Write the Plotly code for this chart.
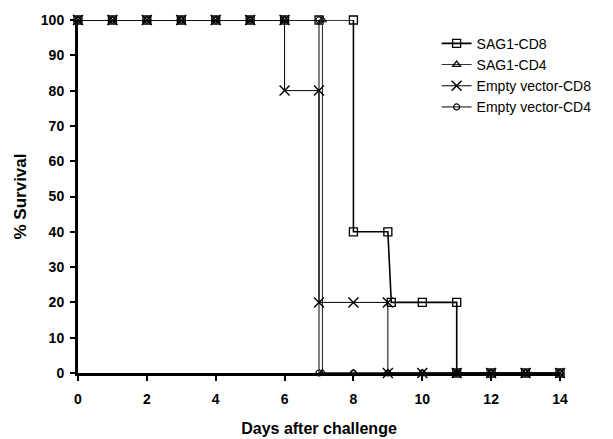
import plotly.graph_objects as go

# ---- data ----
sag1_cd8_days = [0, 1, 2, 3, 4, 5, 6, 7, 8, 8, 9, 9.1, 10, 11, 11, 12, 13, 14]
sag1_cd8_surv = [100, 100, 100, 100, 100, 100, 100, 100, 100, 40, 40, 20, 20, 20, 0, 0, 0, 0]

sag1_cd4_days = [0, 1, 2, 3, 4, 5, 6, 7.1, 7.1, 8, 9, 10, 11, 12, 13, 14]
sag1_cd4_surv = [100, 100, 100, 100, 100, 100, 100, 100, 0, 0, 0, 0, 0, 0, 0, 0]

ev_cd8_days = [0, 1, 2, 3, 4, 5, 6, 6, 7, 7, 8, 9, 9, 10, 11, 12, 13, 14]
ev_cd8_surv = [100, 100, 100, 100, 100, 100, 100, 80, 80, 20, 20, 20, 0, 0, 0, 0, 0, 0]

ev_cd4_days = [0, 1, 2, 3, 4, 5, 6, 7, 7, 8, 9, 10, 11, 12, 13, 14]
ev_cd4_surv = [100, 100, 100, 100, 100, 100, 100, 100, 0, 0, 0, 0, 0, 0, 0, 0]

series_names = ["SAG1-CD8", "SAG1-CD4", "Empty vector-CD8", "Empty vector-CD4"]
x_ticks = [0, 2, 4, 6, 8, 10, 12, 14]
y_ticks = [0, 10, 20, 30, 40, 50, 60, 70, 80, 90, 100]

fig = go.Figure()
fig.add_trace(go.Scatter(x=sag1_cd8_days, y=sag1_cd8_surv, name=series_names[0],
                         mode="lines+markers", cliponaxis=False,
                         line=dict(color="black", width=1.6),
                         marker=dict(symbol="square-open", size=8, color="black",
                                     line=dict(width=1.3, color="black"))))
fig.add_trace(go.Scatter(x=sag1_cd4_days, y=sag1_cd4_surv, name=series_names[1],
                         mode="lines+markers", cliponaxis=False,
                         line=dict(color="#333333", width=1.1),
                         marker=dict(symbol="triangle-up-open", size=7, color="black",
                                     line=dict(width=1.2, color="black"))))
fig.add_trace(go.Scatter(x=ev_cd8_days, y=ev_cd8_surv, name=series_names[2],
                         mode="lines+markers", cliponaxis=False,
                         line=dict(color="black", width=1.0),
                         marker=dict(symbol="x-thin-open", size=10, color="black",
                                     line=dict(width=1.4, color="black"))))
fig.add_trace(go.Scatter(x=ev_cd4_days, y=ev_cd4_surv, name=series_names[3],
                         mode="lines+markers", cliponaxis=False,
                         line=dict(color="black", width=1.0),
                         marker=dict(symbol="circle-open", size=6, color="black",
                                     line=dict(width=1.2, color="black"))))

FONT = "Liberation Sans, Arial, sans-serif"
tickfont = dict(family=FONT, size=14, color="black")

# The page body keeps its default 8px margin, so the figure is 8px smaller.
fig.update_layout(
    width=605, height=431,
    margin=dict(l=70, r=53, t=12, b=66),
    paper_bgcolor="white", plot_bgcolor="white",
    font=dict(family=FONT, color="black"),
    showlegend=True,
    legend=dict(x=0.744, y=0.978, xanchor="left", yanchor="top",
                bgcolor="rgba(0,0,0,0)", borderwidth=0,
                font=dict(family=FONT, size=14, color="black"),
                itemwidth=30, tracegroupgap=0),
    xaxis=dict(range=[0, 14], tickmode="array", tickvals=x_ticks,
               ticktext=["<b>%d</b>" % v for v in x_ticks], automargin=False,
               showgrid=False, zeroline=False, showline=True, linecolor="black",
               linewidth=3, ticks="outside", ticklen=5, tickwidth=2, tickcolor="black",
               tickfont=tickfont, ticklabelstandoff=6,
               title=dict(text="<b>Days after challenge</b>", font=dict(family=FONT, size=16, color="black"), standoff=18)),
    yaxis=dict(range=[0, 100], tickmode="array", tickvals=y_ticks,
               ticktext=["<b>%d</b>" % v for v in y_ticks], automargin=False,
               showgrid=False, zeroline=False, showline=True, linecolor="black",
               linewidth=3, ticks="outside", ticklen=5, tickwidth=2, tickcolor="black",
               tickfont=tickfont, ticklabelstandoff=3,
               title=dict(text="<b>% Survival</b>", font=dict(family=FONT, size=17, color="black"), standoff=10)),
    xaxis2=dict(range=[0, 14], overlaying="x", side="bottom", anchor="y", automargin=False,
                tickmode="array", tickvals=x_ticks, showticklabels=False,
                showgrid=False, zeroline=False, showline=False,
                ticks="inside", ticklen=5, tickwidth=2, tickcolor="black"),
    yaxis2=dict(range=[0, 100], overlaying="y", side="left", anchor="x", automargin=False,
                tickmode="array", tickvals=y_ticks, showticklabels=False,
                showgrid=False, zeroline=False, showline=False,
                ticks="inside", ticklen=5, tickwidth=2, tickcolor="black"),
)

fig.write_html("out.html")
